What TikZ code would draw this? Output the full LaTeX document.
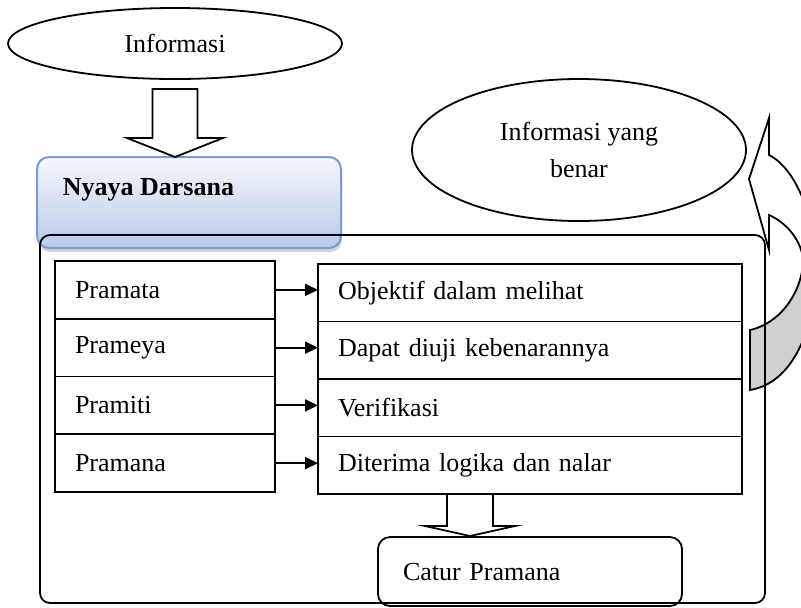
\documentclass[tikz,border=0pt]{standalone}
\usepackage{fontspec}
\setmainfont{Liberation Serif}
\usetikzlibrary{arrows.meta,positioning,shapes.geometric,calc,shadows}
\definecolor{nyayaline}{HTML}{7B9BD1}
\definecolor{nyayatop}{HTML}{F5F7FC}
\definecolor{nyayabot}{HTML}{B8C9E8}
\definecolor{foldgray}{HTML}{D0D0D0}
% hollow block arrow pointing down: top point, tip point, shaft half, head half, head length
\newcommand{\blockdown}[5]{%
  \draw[blockarr] ($(#1)+(-#3,0)$) -- ($(#1)+(#3,0)$) -- ($(#2)+(#3,-#5)$)
    -- ($(#2)+(#4,-#5)$) -- (#2) -- ($(#2)+(-#4,-#5)$) -- ($(#2)+(-#3,-#5)$) -- cycle;}

\begin{document}
\begin{tikzpicture}[
    x=0.5pt, y=-0.5pt,
    font=\fontsize{13}{16}\selectfont,
    line width=0.9pt,
    bubble/.style={draw, ellipse, minimum width=167pt, inner sep=0pt, align=center},
    cell/.style={draw, anchor=north west, outer sep=0pt, inner xsep=10pt, inner ysep=0pt, align=left},
    leftcell/.style={cell, text width=90pt, minimum height=28.875pt},
    rightcell/.style={cell, text width=192pt, minimum height=28.75pt},
    nyayabox/.style={draw=nyayaline, line width=1pt, rounded corners=6pt, anchor=north west,
                     top color=nyayatop, bottom color=nyayabot, minimum width=152pt,
                     minimum height=45.5pt, outer sep=0pt,
                     drop shadow={shadow xshift=0.5pt, shadow yshift=-2pt, opacity=0.35}},
    frame/.style={draw, rounded corners=5pt, anchor=north west, outer sep=0pt,
                  minimum width=362.5pt, minimum height=184pt},
    catur/.style={draw, rounded corners=6pt, anchor=north west, outer sep=0pt, align=left,
                  inner xsep=12.5pt, text width=127pt, minimum height=34.5pt},
    blockarr/.style={draw, fill=white},
    arr/.style={-{Triangle[length=6.5pt,width=6pt]}},
  ]
  \useasboundingbox (0,0) rectangle (801,607);
  \clip (0,0) rectangle (801,607);

  \node[bubble, minimum height=35.5pt] (info) at (175,43.5) {Informasi};
  \node[bubble, minimum height=71pt] (benar) at (579,150) {Informasi yang\\[2.5pt]benar};

  \node[nyayabox] (nyaya) at (37,157) {};
  \node[anchor=west, inner sep=0pt] (nyayatxt) at ($(nyaya.north west)+(25,33)$) {\textbf{Nyaya Darsana}};

  \coordinate (intop) at ($(info.south)+(0,9)$);
  \coordinate (intip) at (intop |- nyaya.north);
  \blockdown{intop}{intip}{22.5}{48}{19}

  % back face of the curved arrow
  \filldraw[fill=foldgray] (750,390) .. controls (798,382) and (816,318) .. (816,268)
    -- (803,258) .. controls (804,285) and (785,322) .. (750,330) -- cycle;

  \node[frame] (frame) at (40,235) {};

  \node[leftcell] (pramata) at (55,261) {Pramata};
  \node[leftcell, below=0pt of pramata] (prameya) {Prameya};
  \node[leftcell, below=0pt of prameya] (pramiti) {Pramiti};
  \node[leftcell, below=0pt of pramiti] (pramana) {Pramana};

  \node[rightcell] (objektif) at (318,264) {Objektif dalam melihat};
  \node[rightcell, below=0pt of objektif] (dapat) {Dapat diuji kebenarannya};
  \node[rightcell, below=0pt of dapat] (verifikasi) {Verifikasi};
  \node[rightcell, below=0pt of verifikasi] (diterima) {Diterima logika dan nalar};

  \foreach \a/\b in {pramata/objektif, prameya/dapat, pramiti/verifikasi, pramana/diterima}
    \draw[arr] (\a.east) -- (\a.east -| \b.west);

  \node[catur] (catur) at (378,537) {Catur Pramana};
  \coordinate (cattip) at ($(catur.north west)+(92,-1)$);
  \coordinate (cattop) at (cattip |- diterima.south);
  \blockdown{cattop}{cattip}{23}{45}{10}

  % curved arrow back up to the answer
  \filldraw[fill=white] (769,155) .. controls (795,168) and (815,215) .. (816,268)
    -- (803,258) .. controls (800,238) and (785,222) .. (769,215)
    -- (769,250) -- (749,179) -- (769,118) -- cycle;
\end{tikzpicture}
\end{document}
